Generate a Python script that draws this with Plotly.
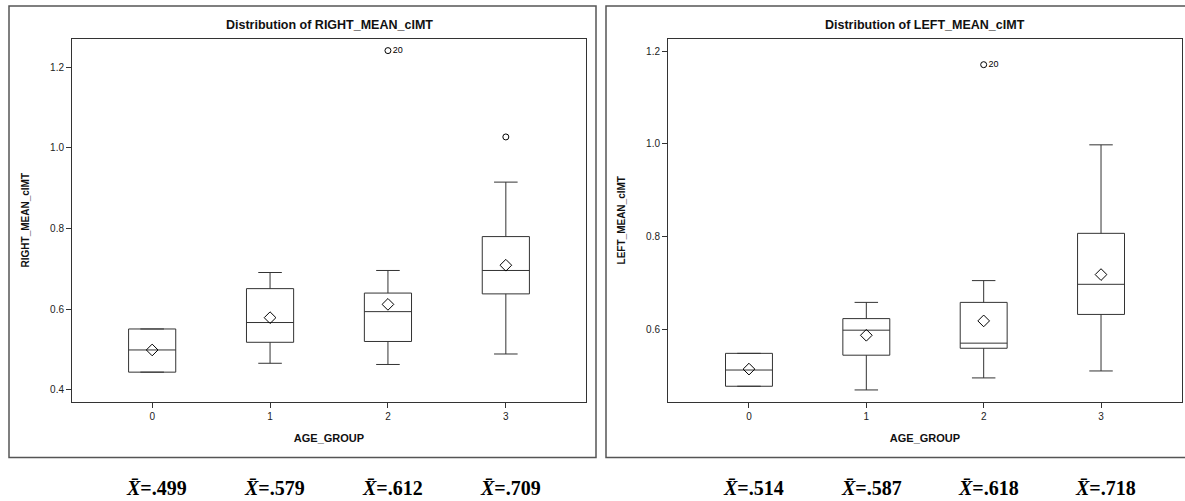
import plotly.graph_objects as go

# ---------------- data ----------------
groups = [0, 1, 2, 3]
group_labels = ["0", "1", "2", "3"]

right_q1 = [0.444, 0.518, 0.520, 0.638]
right_med = [0.499, 0.567, 0.594, 0.696]
right_q3 = [0.551, 0.651, 0.640, 0.780]
right_lo = [0.444, 0.466, 0.463, 0.489]
right_hi = [0.551, 0.691, 0.696, 0.915]
right_mean = [0.499, 0.579, 0.612, 0.709]
right_out_x = [2, 3]
right_out_y = [1.241, 1.027]
right_out_lab = ["20", ""]

left_q1 = [0.477, 0.544, 0.559, 0.632]
left_med = [0.512, 0.598, 0.570, 0.697]
left_q3 = [0.548, 0.623, 0.658, 0.807]
left_lo = [0.477, 0.469, 0.495, 0.510]
left_hi = [0.548, 0.658, 0.705, 0.998]
left_mean = [0.514, 0.587, 0.618, 0.718]
left_out_x = [2]
left_out_y = [1.171]
left_out_lab = ["20"]

right_mean_text = [".499", ".579", ".612", ".709"]
left_mean_text = [".514", ".587", ".618", ".718"]

right_ticks = [0.4, 0.6, 0.8, 1.0, 1.2]
left_ticks = [0.6, 0.8, 1.0, 1.2]

W, H = 1185, 501
LINE = "#333333"
SANS = "Liberation Sans, Arial, sans-serif"

fig = go.Figure()


def add_panel(xa, ya, q1, med, q3, lo, hi, mean, ox, oy, olab):
    fig.add_trace(go.Box(
        x=groups, q1=q1, median=med, q3=q3, lowerfence=lo, upperfence=hi,
        width=0.4, whiskerwidth=0.5, fillcolor="white",
        line=dict(color=LINE, width=1), boxpoints=False,
        xaxis=xa, yaxis=ya, showlegend=False, hoverinfo="skip"))
    fig.add_trace(go.Scatter(
        x=groups, y=mean, mode="markers",
        marker=dict(symbol="diamond-open", size=9, color="black",
                    line=dict(width=1, color="black")),
        xaxis=xa, yaxis=ya, showlegend=False))
    fig.add_trace(go.Scatter(
        x=ox, y=oy, mode="markers+text", text=olab,
        textposition="middle right",
        textfont=dict(family=SANS, size=9, color="black"),
        marker=dict(symbol="circle-open", size=6, color="black",
                    line=dict(width=1, color="black")),
        xaxis=xa, yaxis=ya, showlegend=False))


add_panel("x", "y", right_q1, right_med, right_q3, right_lo, right_hi,
          right_mean, right_out_x, right_out_y, right_out_lab)
add_panel("x2", "y2", left_q1, left_med, left_q3, left_lo, left_hi,
          left_mean, left_out_x, left_out_y, left_out_lab)

axis_common = dict(showgrid=False, zeroline=False, showline=True,
                   linecolor=LINE, linewidth=1, mirror=True,
                   ticks="outside", ticklen=5, tickcolor=LINE,
                   tickfont=dict(family=SANS, size=10, color="#222"))

xdom1 = [72 / W, 586 / W]
xdom2 = [668 / W, 1182 / W]
ydom = [1 - 402 / H, 1 - 38.5 / H]

fig.update_layout(
    width=W, height=H,
    margin=dict(l=0, r=0, t=0, b=0),
    paper_bgcolor="white", plot_bgcolor="white",
    xaxis=dict(domain=xdom1, range=[-0.68, 3.68], tickvals=groups,
               ticktext=group_labels,
               title=dict(text="<b>AGE_GROUP</b>", standoff=13,
                          font=dict(family=SANS, size=11, color="#111")),
               anchor="y", **axis_common),
    yaxis=dict(domain=ydom, range=[0.370, 1.271], tickvals=right_ticks,
               tickformat=".1f",
               title=dict(text="<b>RIGHT_MEAN_cIMT</b>", standoff=18,
                          font=dict(family=SANS, size=10, color="#111")),
               anchor="x", **axis_common),
    xaxis2=dict(domain=xdom2, range=[-0.69, 3.69], tickvals=groups,
                ticktext=group_labels,
                title=dict(text="<b>AGE_GROUP</b>", standoff=13,
                           font=dict(family=SANS, size=11, color="#111")),
                anchor="y2", **axis_common),
    yaxis2=dict(domain=ydom, range=[0.443, 1.2275], tickvals=left_ticks,
                tickformat=".1f",
                title=dict(text="<b>LEFT_MEAN_cIMT</b>", standoff=18,
                           font=dict(family=SANS, size=10, color="#111")),
                anchor="x2", **axis_common),
)

# frames around each panel
frame = dict(type="rect", xref="paper", yref="paper",
             line=dict(color="#555555", width=1.5), fillcolor="rgba(0,0,0,0)",
             layer="below")
fig.add_shape(x0=9 / W, x1=596 / W, y0=1 - 457.5 / H, y1=1 - 6 / H, **frame)
fig.add_shape(x0=606 / W, x1=1190 / W, y0=1 - 457.5 / H, y1=1 - 6 / H, **frame)

# titles
for cx, name in [((72 + 586) / 2, "RIGHT_MEAN_cIMT"), ((668 + 1182) / 2, "LEFT_MEAN_cIMT")]:
    fig.add_annotation(x=cx / W, y=1 - 25 / H, xref="paper", yref="paper",
                       text=f"<b>Distribution of {name}</b>", showarrow=False,
                       font=dict(family=SANS, size=12.5, color="#111"),
                       xanchor="center", yanchor="middle")

# mean annotations below each panel
for xa, texts in [("x", right_mean_text), ("x2", left_mean_text)]:
    for g, t in zip(groups, texts):
        fig.add_annotation(x=g + 0.04, y=1 - 488 / H, xref=xa, yref="paper",
                           text=f"<b><i>X\u0304</i>={t}</b>", showarrow=False,
                           font=dict(family="Liberation Serif, Times New Roman, serif",
                                     size=20, color="black"),
                           xanchor="center", yanchor="middle")

fig.write_html("out.html")
